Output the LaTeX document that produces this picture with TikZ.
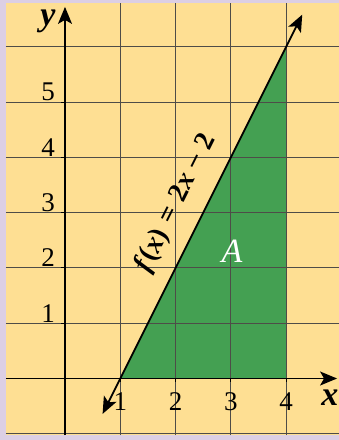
\documentclass[tikz,border=0pt]{standalone}
\usepackage{fontspec}
\setmainfont{Liberation Serif}
\usetikzlibrary{arrows.meta}
\definecolor{bgyellow}{HTML}{FEDF93}
\definecolor{areagreen}{HTML}{44A052}
\definecolor{framelav}{HTML}{DCCFE4}
\definecolor{gridgray}{HTML}{4E4C48}
\tikzset{
  gridline/.style={draw=gridgray,line width=0.9pt},
  axisline/.style={draw=black,line width=1.4pt,-{Stealth[length=17pt,width=14pt,inset=4pt]}},
  funcline/.style={draw=black,line width=1.7pt,{Stealth[length=17pt,width=14pt,inset=4pt]}-{Stealth[length=17pt,width=14pt,inset=4pt]}},
  ticklabel/.style={inner sep=0pt,font=\fontsize{27}{27}\selectfont},
  axislabel/.style={inner sep=0pt,font=\fontsize{34}{34}\selectfont\bfseries\itshape},
  ticks/.style={draw=black,line width=1pt}
}
\begin{document}
\begin{tikzpicture}[x=55.3pt,y=55.3pt]
\useasboundingbox (-1.1754,-1.1121) rectangle (4.9548,6.8445);
\fill[framelav] (-1.1754,-1.1121) rectangle (4.9548,6.8445);
\fill[bgyellow] (-1.0669,-1.0217) rectangle (4.9548,6.790);
% shaded area
\fill[areagreen] (1,0) -- (4,0) -- (4,6) -- cycle;
% grid
\foreach \i in {1,2,3,4}
  \draw[gridline] (\i,-1.0217) -- (\i,6.790);
\foreach \j in {-1,1,2,3,4,5,6}
  \draw[gridline] (-1.0669,\j) -- (4.9548,\j);
% axes
\coordinate (xstart) at (-1.0669,0);
\coordinate (xend) at (4.92,0);
\coordinate (ystart) at (0,-1.0217);
\coordinate (yend) at (0,6.72);
\draw[axisline] (xstart) -- (xend);
\draw[axisline] (ystart) -- (yend);
% ticks
\foreach \i in {1,2,3,4}
  \draw[ticks] (\i,0) -- (\i,-0.07);
\foreach \j in {1,2,3,4,5}
  \draw[ticks] (0,\j) -- (-0.07,\j);
% tick labels
\foreach \i in {1,2,3,4}
  \node[ticklabel,anchor=base] (xl\i) at (\i,-0.57) {\i};
\foreach \j in {1,2,3,4,5}
  \node[ticklabel,anchor=base east] (yl\j) at (-0.18,\j+0.02) {\j};
% axis labels
\node[axislabel,anchor=base] (xlab) at (4.79,-0.48) {x};
\node[axislabel,anchor=base] (ylab) at (-0.31,6.38) {y};
% function line
\coordinate (fstart) at (0.68,-0.64);
\coordinate (fend) at (4.29,6.58);
\draw[funcline] (fstart) -- (fend);
\node[rotate=63.43,inner sep=0pt,font=\fontsize{28}{28}\selectfont\bfseries] (flab) at (2.01,3.17)
  {\textit{f}(\textit{x})\hspace{0.32em}=\hspace{0.32em}2\textit{x}\hspace{0.25em}−\hspace{0.25em}2};
% area label
\node[inner sep=0pt,text=white,font=\fontsize{34}{34}\selectfont\itshape] (alab) at (3.02,2.30) {A};
\end{tikzpicture}
\end{document}
